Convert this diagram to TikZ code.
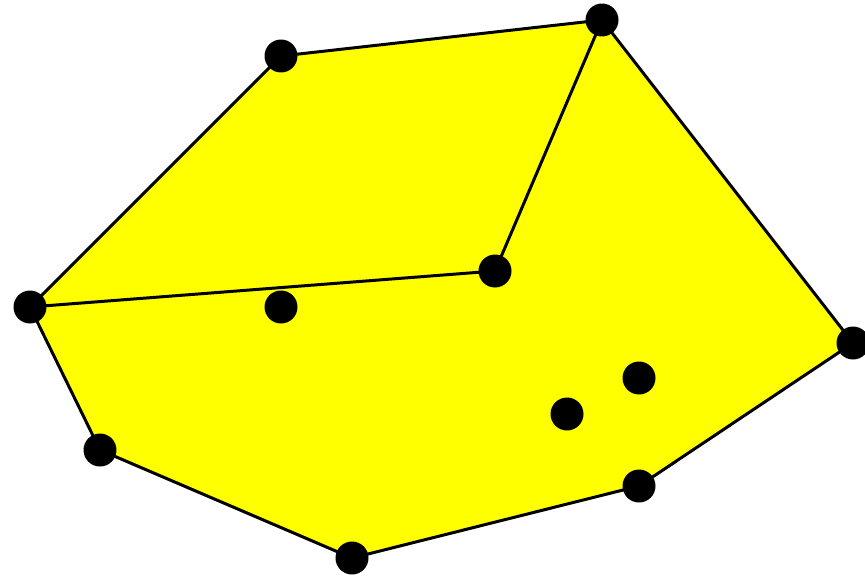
\documentclass[tikz,border=0pt]{standalone}
\usetikzlibrary{positioning}
\definecolor{hullyellow}{RGB}{255,255,0}

\begin{document}
\begin{tikzpicture}[x=0.02cm, y=-0.02cm,
    pt/.style={circle, fill=black, inner sep=0pt, minimum size=0.66cm},
    edge/.style={line width=1.7pt, line join=round}]
\useasboundingbox (0,0) rectangle (865,578);
% hull vertices
\coordinate (a) at (30,307);
\coordinate (b) at (281,56);
\coordinate (c) at (602,20);
\coordinate (d) at (853,343);
\coordinate (e) at (639,486);
\coordinate (f) at (352,558);
\coordinate (g) at (100,450);
% inner points
\coordinate (h) at (495,271);
\coordinate (i) at (281,307);
\coordinate (j) at (639,378);
\coordinate (k) at (567,414);
\fill[hullyellow] (a) -- (b) -- (c) -- (d) -- (e) -- (f) -- (g) -- cycle;
\draw[edge] (a) -- (b) -- (c) -- (d) -- (e) -- (f) -- (g) -- cycle;
\draw[edge] (a) -- (h) -- (c);
\foreach \p in {a,b,c,d,e,f,g,h,i,j,k}
  \node[pt] (n\p) at (\p) {};
\end{tikzpicture}
\end{document}
